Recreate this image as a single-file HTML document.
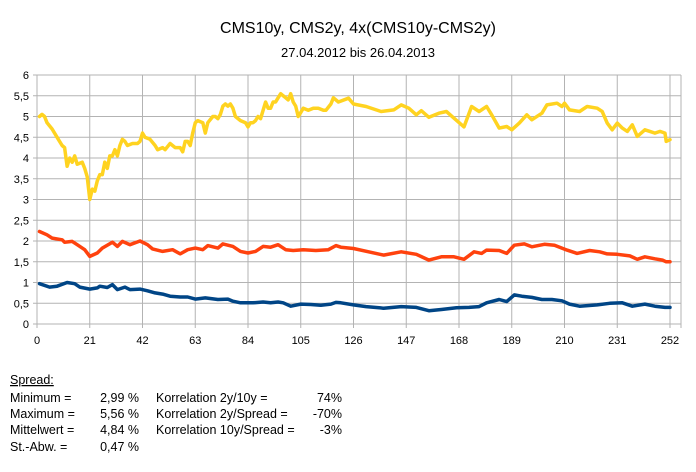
<!DOCTYPE html>
<html><head><meta charset="utf-8"><style>
body{margin:0;background:#fff;width:696px;height:467px;overflow:hidden;font-family:"Liberation Sans",Arial,sans-serif}
svg text{font-family:"Liberation Sans",Arial,sans-serif}
.sq{text-decoration:underline wavy #e00;text-decoration-thickness:1px}
</style></head><body>
<svg id="chart" width="696" height="467" xmlns="http://www.w3.org/2000/svg">
<text x="358" y="33" font-size="16" text-anchor="middle">CMS10y, CMS2y, 4x(CMS10y-CMS2y)</text>
<text x="358" y="57" font-size="13" text-anchor="middle">27.04.2012 bis 26.04.2013</text>
<g id="grid"></g>
<g id="axes"></g>
<g id="series"></g>
<g font-size="12.5" fill="#000">
<text x="10" y="384" class="sq" text-decoration="underline">Spread:</text>
<text x="10" y="402">Minimum =</text><text x="139" y="402" text-anchor="end">2,99 %</text>
<text x="10" y="418">Maximum =</text><text x="139" y="418" text-anchor="end">5,56 %</text>
<text x="10" y="434">Mittelwert =</text><text x="139" y="434" text-anchor="end">4,84 %</text>
<text x="10" y="451">St.-Abw. =</text><text x="139" y="451" text-anchor="end">0,47 %</text>
<text x="156" y="402">Korrelation 2y/10y =</text><text x="342" y="402" text-anchor="end">74%</text>
<text x="156" y="418">Korrelation 2y/Spread =</text><text x="342" y="418" text-anchor="end">-70%</text>
<text x="156" y="434">Korrelation 10y/Spread =</text><text x="342" y="434" text-anchor="end">-3%</text>
</g>
</svg>
<script>
const yTicks=[0,0.5,1,1.5,2,2.5,3,3.5,4,4.5,5,5.5,6];
const yTickLabels=["0","0,5","1","1,5","2","2,5","3","3,5","4","4,5","5","5,5","6"];
const xTicks=[0,21,42,63,84,105,126,147,168,189,210,231,252];
const spreadDays=[1,2,3,4,6,8,10,11,12,13,14,15,16,18,19,20,21,22,23,24,25,26,27,28,29,30,31,32,33,34,35,36,38,40,41,42,43,45,47,48,50,51,53,55,57,58,59,60,61,62,63,64,66,67,68,70,71,72,73,74,75,76,77,78,79,80,81,83,84,85,86,87,88,89,90,91,92,93,94,95,96,97,98,99,100,101,102,103,104,105,106,108,110,112,114,115,117,118,120,124,126,131,137,142,145,148,151,153,156,160,163,166,170,173,176,179,181,184,187,189,192,195,197,201,203,207,209,210,212,216,219,223,225,227,229,231,233,235,237,239,242,244,246,248,250,250.5,252];
const spreadVals=[5.0,5.05,5.0,4.85,4.7,4.5,4.3,4.25,3.8,4.0,3.9,4.05,3.85,3.9,3.75,3.55,3.0,3.25,3.2,3.45,3.6,3.6,3.9,3.75,4.05,4.05,4.2,4.05,4.3,4.45,4.4,4.3,4.35,4.35,4.4,4.6,4.5,4.45,4.3,4.2,4.25,4.2,4.35,4.25,4.25,4.15,4.4,4.4,4.3,4.6,4.85,4.9,4.85,4.6,4.85,5.0,5.0,4.95,5.05,5.25,5.3,5.25,5.3,5.2,5.0,4.95,4.9,4.85,4.75,4.85,4.85,4.9,5.0,4.95,5.15,5.35,5.2,5.2,5.35,5.35,5.45,5.55,5.5,5.45,5.4,5.55,5.35,5.25,5.0,5.1,5.2,5.15,5.2,5.2,5.15,5.15,5.3,5.45,5.35,5.44,5.3,5.24,5.12,5.16,5.28,5.2,5.04,5.14,4.98,5.08,5.12,4.96,4.75,5.24,5.12,5.24,5.04,4.72,4.76,4.68,4.84,5.04,4.92,5.08,5.28,5.32,5.24,5.32,5.16,5.12,5.24,5.2,5.12,4.84,4.68,4.84,4.72,4.64,4.8,4.52,4.68,4.64,4.6,4.64,4.6,4.4,4.44];
const cms10Days=[1,4,6,10,11,14,16,19,21,24,26,30,32,34,37,41,44,46,50,54,57,60,63,66,68,72,74,78,81,84,87,90,93,96,99,102,106,111,116,119,121,126,132,138,145,151,156,161,166,170,174,177,179,184,187,190,194,197,202,206,211,215,220,224,227,231,236,239,242,246,249,250.5,252];
const cms10Vals=[2.23,2.15,2.07,2.03,1.97,1.99,1.91,1.79,1.63,1.71,1.83,1.97,1.87,1.99,1.91,2.0,1.91,1.81,1.75,1.79,1.69,1.79,1.83,1.79,1.89,1.83,1.93,1.87,1.75,1.71,1.75,1.87,1.85,1.91,1.79,1.77,1.79,1.77,1.79,1.89,1.85,1.82,1.74,1.66,1.74,1.68,1.54,1.62,1.62,1.56,1.74,1.7,1.78,1.77,1.7,1.9,1.93,1.86,1.92,1.9,1.78,1.7,1.77,1.74,1.69,1.68,1.64,1.56,1.62,1.57,1.54,1.5,1.5];
const cms2Days=[1,5,8,12,15,17,21,24,25,28,30,32,35,37,41,44,47,50,53,57,60,63,67,72,76,78,81,86,90,93,96,98,101,105,109,113,117,119,121,126,131,138,145,151,156,161,167,172,176,179,184,187,190,193,197,201,205,209,212,216,223,228,233,237,242,246,250,252];
const cms2Vals=[0.97,0.89,0.91,1.0,0.97,0.89,0.84,0.87,0.91,0.88,0.95,0.83,0.89,0.83,0.84,0.8,0.75,0.72,0.67,0.65,0.65,0.6,0.63,0.59,0.6,0.55,0.51,0.51,0.53,0.51,0.53,0.51,0.43,0.48,0.47,0.45,0.48,0.52,0.51,0.46,0.42,0.38,0.42,0.4,0.32,0.35,0.39,0.4,0.42,0.51,0.59,0.54,0.7,0.67,0.64,0.59,0.59,0.56,0.48,0.43,0.46,0.5,0.51,0.43,0.48,0.43,0.4,0.4];
const X0=37,X1=670,Y0=324,Y1=75;
const xs=d=>X0+(X1-X0)*d/252;
const ys=v=>Y0-(Y0-Y1)*v/6;
const NS="http://www.w3.org/2000/svg";
function mk(tag,parent,attrs){const e=document.createElementNS(NS,tag);for(const k in attrs)e.setAttribute(k,attrs[k]);parent.appendChild(e);return e;}
const grid=document.getElementById('grid'),axes=document.getElementById('axes'),series=document.getElementById('series');
yTicks.forEach((t,i)=>{
 const l=mk('line',grid,{x1:X0-4,x2:681,y1:ys(t),y2:ys(t),stroke:'#b3b3b3','stroke-width':1});
 
 
 const tx=mk('text',axes,{x:X0-8,y:ys(t)+4,'font-size':'11','text-anchor':'end'});
 tx.textContent=yTickLabels[i];
 
 
});
xTicks.forEach(t=>{
 const l=mk('line',grid,{x1:xs(t),x2:xs(t),y1:Y1,y2:Y0+4,stroke:'#b3b3b3','stroke-width':1});
 
 
 const tx=mk('text',axes,{x:xs(t),y:Y0+20,'font-size':'11','text-anchor':'middle'});
 tx.textContent=String(t);
 
 
});
const rb=mk('line',grid,{x1:681,x2:681,y1:Y1,y2:Y0+4,stroke:'#b3b3b3','stroke-width':1});


function drawLine(days,vals,color,name){
 const pts=days.map((d,i)=>xs(d).toFixed(1)+','+ys(vals[i]).toFixed(1)).join(' ');
 const p=mk('polyline',series,{points:pts,fill:'none',stroke:color,'stroke-width':3.5,'stroke-linejoin':'round','stroke-linecap':'round'});
 
 
}
drawLine(cms2Days,cms2Vals,'#004586','cms2y-line');
drawLine(cms10Days,cms10Vals,'#ff420e','cms10y-line');
drawLine(spreadDays,spreadVals,'#ffd320','spread-line');
</script>
</body></html>
